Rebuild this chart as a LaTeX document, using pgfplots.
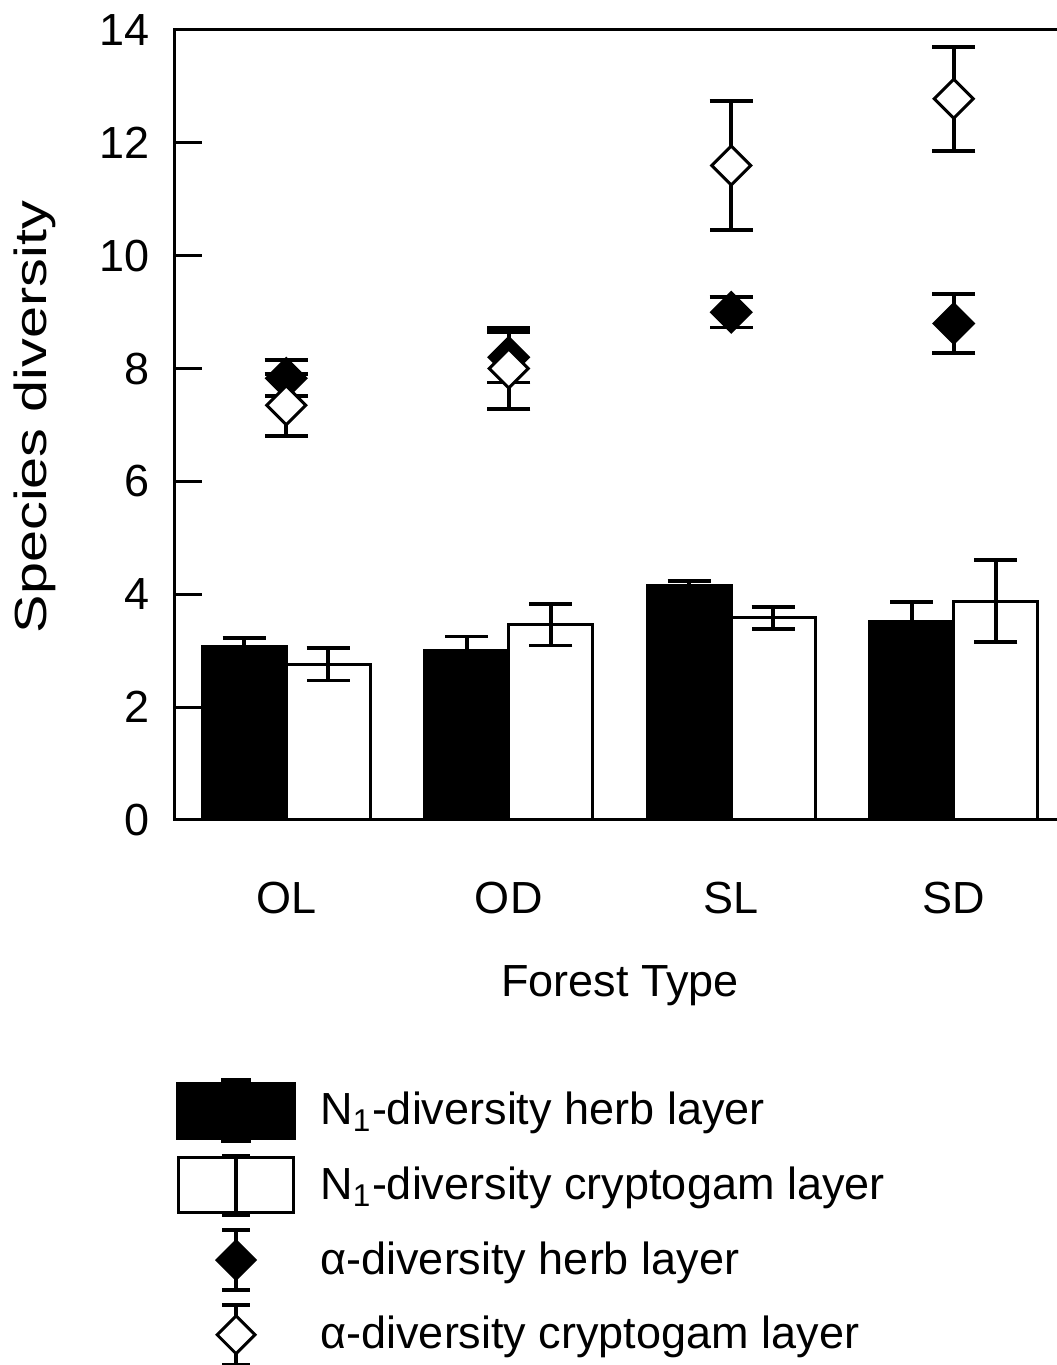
\documentclass[border=0pt]{standalone}
\usepackage{pgfplots}
\usepackage{pgfplotstable}
\pgfplotsset{compat=1.18}
\usepackage{fontspec}
\setmainfont{Liberation Sans}

\pgfplotstableread{
x y e
0 3.08 0.15
1 3.00 0.25
2 4.15 0.09
3 3.51 0.35
}\herbN
\pgfplotstableread{
x y e
0 2.76 0.29
1 3.46 0.37
2 3.58 0.19
3 3.88 0.73
}\cryptN
\pgfplotstableread{
x y e
0 7.83 0.32
1 8.20 0.45
2 9.00 0.27
3 8.80 0.52
}\herbA
\pgfplotstableread{
x y e
0 7.35 0.55
1 8.00 0.72
2 11.60 1.14
3 12.78 0.92
}\cryptA

\begin{document}
\begin{tikzpicture}[font=\fontsize{15}{18}\selectfont]
\begin{axis}[
  width=296.67pt, height=263.33pt, scale only axis,
  xmin=-0.5, xmax=3.5, ymin=0, ymax=14,
  ytick={0,2,...,14},
  xtick={0,1,2,3}, xticklabels={OL,OD,SL,SD},
  axis line style={line width=1pt},
  major tick length=9pt,
  tick style={line width=1pt, black},
  x tick style={draw=none},
  ytick pos=left,
  yticklabel style={xshift=-5pt},
  xticklabel style={yshift=-17pt},
  /pgf/number format/assume math mode=true,
  ylabel={\scalebox{1.28}[1]{Species diversity}},
  ylabel style={at={(axis description cs:-0.157,0.51)}, anchor=center},
  xlabel={Forest Type},
  xlabel style={at={(axis description cs:0.5,-0.21)}, anchor=center},
  legend style={at={(axis description cs:0,-0.3254)}, anchor=north west,
    draw=none, fill=none, inner sep=0pt, nodes={inner sep=0pt},
    cells={anchor=west}, row sep=2.9pt,
    /tikz/every odd column/.append style={column sep=8pt}},
  error bars/error bar style={line width=1.2pt, black},
  error bars/error mark options={rotate=90, line width=1.2pt, black, mark size=7.2pt},
]
\coordinate (O) at (rel axis cs:0,0);
\addplot[ybar, bar width=28pt, bar shift=0pt, fill=black, draw=black, line width=1pt,
  legend image code/.code={
    \path[draw=none, fill=none] (0pt,-11pt) rectangle (39.3pt,11pt);
    \fill[black] (0pt,-9.2pt) rectangle (39.3pt,9.2pt);
    \fill[black] (15pt,-10.3pt) rectangle (24.3pt,10.3pt);
  },
  error bars/.cd, y dir=both, y explicit,
  ] table[x expr=\thisrow{x}-0.1888, y=y, y error=e] {\herbN};
\addlegendentry{N\textsubscript{1}-diversity herb layer}
\addplot[ybar, bar width=28pt, bar shift=0pt, fill=white, draw=black, line width=1pt,
  legend image code/.code={
    \path[draw=none, fill=none] (0pt,-11pt) rectangle (39.3pt,11pt);
    \draw[line width=1pt, fill=white, draw=black] (0.5pt,-9.2pt) rectangle (38.8pt,9.2pt);
    \draw[line width=1.2pt, draw=black] (19.65pt,-10pt)--(19.65pt,10pt);
    \draw[line width=1.6pt, draw=black] (15pt,9.6pt)--(24.3pt,9.6pt) (15pt,-9.6pt)--(24.3pt,-9.6pt);
  },
  error bars/.cd, y dir=both, y explicit,
  ] table[x expr=\thisrow{x}+0.1888, y=y, y error=e] {\cryptN};
\addlegendentry{N\textsubscript{1}-diversity cryptogam layer}
\addplot[only marks, mark=square*, mark size=4.6pt, mark options={rotate=45, fill=black, draw=black, line width=1pt},
  legend image code/.code={
    \path[draw=none, fill=none] (0pt,-11pt) rectangle (39.3pt,11pt);
    \draw[line width=1.2pt, draw=black] (19.65pt,-10pt)--(19.65pt,10pt) (15pt,10pt)--(24.3pt,10pt) (15pt,-10pt)--(24.3pt,-10pt);
    \draw[line width=1pt, fill=black, draw=black] (19.65pt,6.3pt)--(25.95pt,0pt)--(19.65pt,-6.3pt)--(13.35pt,0pt)--cycle;
  },
  error bars/.cd, y dir=both, y explicit,
  ] table[x=x, y=y, y error=e] {\herbA};
\addlegendentry{α-diversity herb layer}
\addplot[only marks, mark=square*, mark size=4.6pt, mark options={rotate=45, fill=white, draw=black, line width=1pt},
  legend image code/.code={
    \path[draw=none, fill=none] (0pt,-11pt) rectangle (39.3pt,11pt);
    \draw[line width=1.2pt, draw=black] (19.65pt,-10pt)--(19.65pt,10pt) (15pt,10pt)--(24.3pt,10pt) (15pt,-10pt)--(24.3pt,-10pt);
    \draw[line width=1pt, fill=white, draw=black] (19.65pt,6.3pt)--(25.95pt,0pt)--(19.65pt,-6.3pt)--(13.35pt,0pt)--cycle;
  },
  error bars/.cd, y dir=both, y explicit,
  ] table[x=x, y=y, y error=e] {\cryptA};
\addlegendentry{α-diversity cryptogam layer}
\end{axis}
\pgfresetboundingbox
\path[use as bounding box] ([shift={(-58.33pt,-181.67pt)}]O) rectangle ([shift={(294pt,273.33pt)}]O);
\end{tikzpicture}
\end{document}
